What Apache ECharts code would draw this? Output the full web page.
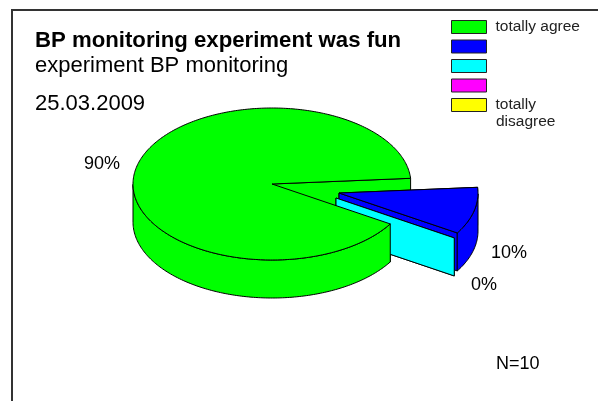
<!DOCTYPE html>
<html>
<head>
<meta charset="utf-8">
<style>
html, body { margin: 0; padding: 0; background: #fff; }
#chart { width: 598px; height: 401px; }
</style>
<script src="https://cdn.jsdelivr.net/npm/echarts@6/dist/echarts.min.js"></script>
</head>
<body>
<div id="chart"></div>
<script>
// chart data
const categories = ['totally agree', ' ', '  ', '   ', 'totally disagree'];
const shares = [90, 10, 0, 0, 0];
const colors = ['#00ff00', '#0000ff', '#00ffff', '#ff00ff', '#ffff00'];
const titleText = 'BP monitoring experiment was fun';
const subtitleText = 'experiment BP monitoring';
const dateText = '25.03.2009';
const sampleText = 'N=10';

// pie geometry
const FONT = '"Liberation Sans", Arial, sans-serif';
const CX = 272, CY = 184, RX = 139, RY = 76, DEPTH = 38;
const START_ANGLE = 31.7; // degrees, clockwise from the right
const explode = [[0, 0], [67, 9], [64, 14], [0, 0], [0, 0]];
const labelPos = [[102, 164], [509, 253], [484, 285]];
// stacking order of the faces: the green back wall sits behind the pulled out slices
const layers = [
    { edge: 1, rim: 20, top: 21 },
    { edge: 5, rim: 6, top: 7 },
    { edge: 10, rim: 10, top: 10 }
];

const total = shares.reduce((a, b) => a + b, 0);
const toRad = (d) => d * Math.PI / 180;

function renderSlice(index) {
    return function (params, api) {
        const value = api.value(0);
        if (!value && index > 2) {
            return { type: 'group', children: [] };
        }
        let before = 0;
        for (let i = 0; i < index; i++) before += shares[i];
        const a0 = START_ANGLE + before / total * 360;
        const a1 = a0 + value / total * 360;
        const cx = CX + explode[index][0];
        const cy = CY + explode[index][1];
        const at = (deg, drop) => [
            cx + RX * Math.cos(toRad(deg)),
            cy + RY * Math.sin(toRad(deg)) + (drop || 0)
        ];
        const style = { fill: colors[index], stroke: '#000', lineWidth: 1, lineJoin: 'round' };
        const face = (points, z2) => ({ type: 'polygon', z2, shape: { points }, style });
        const layer = layers[index];
        const children = [];

        // cut faces of the slice
        [a0, a1].forEach((a) => {
            children.push(face([[cx, cy], at(a), at(a, DEPTH), [cx, cy + DEPTH]], layer.edge));
        });

        // outer wall, only the part that faces the viewer
        const upper = [];
        const lower = [];
        for (let a = a0; a <= a1 + 0.001; a += 1) {
            const n = ((a % 360) + 360) % 360;
            if (n <= 180) {
                upper.push(at(a));
                lower.unshift(at(a, DEPTH));
            }
        }
        if (value && upper.length > 1) {
            children.push(face(upper.concat(lower), layer.rim));
        }

        // top of the slice
        if (value) {
            const top = [[cx, cy]];
            for (let a = a0; a < a1; a += 1) top.push(at(a));
            top.push(at(a1));
            children.push(face(top, layer.top));
        }
        return { type: 'group', children };
    };
}

const chart = echarts.init(document.getElementById('chart'), null, { renderer: 'canvas' });

const labelGraphics = shares.slice(0, 3).map((v, i) => ({
    type: 'text',
    x: labelPos[i][0],
    y: labelPos[i][1],
    style: {
        text: v + '%', fill: '#000', font: '18px ' + FONT,
        textAlign: 'center', textVerticalAlign: 'middle'
    }
}));

chart.setOption({
    animation: false,
    backgroundColor: '#fff',
    title: {
        text: titleText,
        subtext: subtitleText,
        left: 30,
        top: 25,
        itemGap: 3,
        textStyle: { fontFamily: FONT, fontSize: 22.2, fontWeight: 'bold', color: '#000' },
        subtextStyle: { fontFamily: FONT, fontSize: 22, color: '#000' }
    },
    legend: {
        orient: 'vertical',
        left: 446,
        top: 14,
        itemWidth: 35,
        itemHeight: 13,
        itemGap: 3.5,
        icon: 'rect',
        selectedMode: false,
        data: categories,
        formatter: (name) => name.split(' ')[0] === 'totally' && name.endsWith('disagree') ? 'totally' : name,
        itemStyle: { borderColor: '#222', borderWidth: 1 },
        textStyle: {
            fontFamily: FONT, fontSize: 15.5, color: '#222',
            height: 13, lineHeight: 13, padding: [0, 0, 0, 4]
        }
    },
    series: categories.map((name, i) => ({
        type: 'custom',
        name,
        coordinateSystem: 'none',
        silent: true,
        itemStyle: { color: colors[i] },
        data: [[shares[i]]],
        renderItem: renderSlice(i)
    })),
    graphic: [
        {
            type: 'polyline',
            shape: { points: [[12, 401], [12, 10], [598, 10]] },
            style: { stroke: '#333', lineWidth: 2, fill: null }
        },
        {
            type: 'text', x: 35, y: 104,
            style: { text: dateText, fill: '#000', font: '22px ' + FONT, textVerticalAlign: 'middle' }
        },
        {
            type: 'text', x: 496, y: 122,
            style: { text: 'disagree', fill: '#222', font: '15.5px ' + FONT, textVerticalAlign: 'middle' }
        },
        {
            type: 'text', x: 496, y: 364,
            style: { text: sampleText, fill: '#000', font: '18px ' + FONT, textVerticalAlign: 'middle' }
        }
    ].concat(labelGraphics)
});
</script>
</body>
</html>
